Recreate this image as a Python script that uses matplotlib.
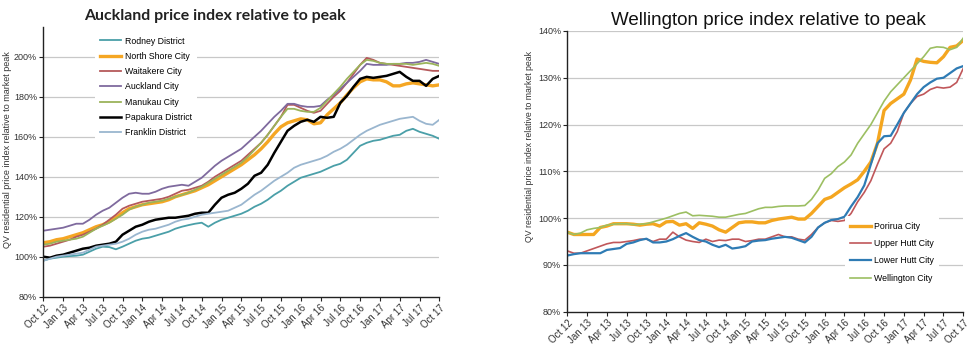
import numpy as np
import matplotlib
matplotlib.use('Agg')
import matplotlib.pyplot as plt

# month labels, Oct 12 .. Oct 17 (monthly points, quarterly ticks)
tick_labels = ['Oct 12', 'Jan 13', 'Apr 13', 'Jul 13', 'Oct 13', 'Jan 14', 'Apr 14', 'Jul 14',
               'Oct 14', 'Jan 15', 'Apr 15', 'Jul 15', 'Oct 15', 'Jan 16', 'Apr 16', 'Jul 16',
               'Oct 16', 'Jan 17', 'Apr 17', 'Jul 17', 'Oct 17']
months = np.arange(61)

# Auckland (% of previous market peak)
rodney = [98, 99, 99.5, 100, 100.3, 100.5, 101, 102.5, 104, 105, 104.8, 103.7, 105, 106.5, 108, 109,
          109.5, 110.5, 111.5, 112.5, 114, 115, 115.8, 116.5, 117, 115, 117, 118.5, 119.5, 120.5, 121.5,
          123, 125, 126.5, 128.5, 131, 133, 135.5, 137.5, 139.5, 140.5, 141.5, 142.5, 144, 145.5, 146.5,
          148.5, 152, 155.5, 157, 158, 158.5, 159.5, 160.5, 161, 163, 164, 162.5, 161.5, 160.5, 159]
north_shore = [107, 107.5, 108.5, 109, 110, 111, 112, 113.5, 115, 116, 117.5, 119.5, 122, 124, 125, 126,
               126.5, 127, 127.5, 128.5, 130, 131, 132, 133, 134.5, 136, 138, 140, 142, 144, 146, 148.5,
               151, 154, 157.5, 161.5, 165, 167, 168, 169, 168.5, 166.5, 167, 171, 174, 177, 181, 184.5,
               187.5, 189, 188.5, 188.5, 187.5, 185.5, 185.5, 186.5, 187, 186.5, 186, 185.5, 186]
waitakere = [105, 105.5, 106.5, 107.5, 108.5, 110, 111, 112.5, 114, 116, 118.5, 121, 124, 125.5, 126.5,
             127.5, 128, 128.5, 129, 130, 131.5, 133, 133.5, 134.5, 135.5, 137.5, 140, 142, 144, 146, 148,
             151, 154, 157, 161, 165.5, 170, 176, 176, 174.5, 173, 172, 173, 176.5, 180, 183, 187, 191.5,
             196, 199.5, 198.5, 197, 196.5, 196, 195.5, 195, 194.5, 194, 193.5, 193, 193]
auckland_city = [113, 113.5, 114, 114.5, 115.5, 116.5, 116.5, 118.5, 121, 123, 124.5, 127, 129.5, 131.5,
                 132, 131.5, 131.5, 132.5, 134, 135, 135.5, 136, 135.5, 137.5, 139.5, 142.5, 145.5, 148,
                 150, 152, 154, 157, 160, 163, 166.5, 170, 173, 176.5, 176.5, 175.5, 175, 175, 175.5, 178.5,
                 181, 184, 187, 190, 193, 196.5, 196, 196, 196, 196.5, 196.5, 197, 197, 197.5, 198.5, 197.5,
                 196.5]
manukau = [106, 106.5, 107.5, 108, 108.5, 109, 110, 112, 114, 115.5, 117, 119, 121, 123.5, 125, 126, 127,
           127.5, 128, 129, 130, 131, 132, 133.5, 135, 137, 139, 141, 143, 145, 147, 150, 153.5, 157, 161,
           165.5, 170, 174, 174, 173, 172.5, 172.5, 174.5, 178, 181.5, 185, 189, 192.5, 196, 198.5, 198,
           197, 196.5, 196.5, 196.5, 196.5, 196, 196.5, 197, 196.5, 195.5]
papakura = [100, 99.5, 100.5, 101, 102, 103, 104, 104.5, 105.5, 106, 106.5, 107.5, 111, 113, 115, 116,
            117.5, 118.5, 119, 119.5, 119.5, 120, 120.5, 121.5, 122, 122, 126, 129.5, 131, 132, 134, 136.5,
            140.5, 142, 146, 152, 157.5, 163, 165.5, 167.5, 168.5, 167.5, 170, 169.5, 170, 177, 180.5, 185,
            189, 190, 189.5, 190, 190.5, 191.5, 192.5, 190, 188, 188, 185.5, 189, 190.5]
franklin = [98, 99, 100, 100.5, 101, 101.5, 102, 103.5, 105, 105.5, 106, 106.5, 107.5, 109, 111, 112.5,
            113.5, 114, 115, 116, 117.5, 118.5, 119, 120, 121, 121.5, 122, 122.5, 123, 124.5, 126, 128.5,
            131, 133, 135.5, 138, 140, 142, 144.5, 146, 147, 148, 149, 150.5, 152.5, 154, 156, 158.5, 161,
            163, 164.5, 166, 167, 168, 169, 169.5, 170, 168, 166.5, 166, 168.5]

# Wellington
porirua = [97, 96.5, 96.5, 96.5, 96.5, 98, 98.3, 98.8, 98.8, 98.8, 98.7, 98.5, 98.7, 98.8, 98.3, 99.2,
           99.3, 98.5, 98.8, 97.8, 99, 98.7, 98.3, 97.5, 97, 98, 99, 99.2, 99.2, 99, 99, 99.5, 99.8, 100,
           100.2, 99.8, 99.8, 101, 102.5, 104, 104.5, 105.5, 106.5, 107.3, 108.2, 110, 112, 116, 123, 124.5,
           125.5, 126.5, 129.5, 134, 133.5, 133.3, 133.2, 134.5, 136.5, 136.8, 138]
upper_hutt = [93, 92.5, 92.5, 93, 93.5, 94, 94.5, 94.8, 94.8, 95, 95.2, 95.5, 95.5, 95, 95.5, 95.5, 97,
              96, 95.3, 95, 94.8, 95.5, 95, 95.3, 95.2, 95.5, 95.5, 95, 95.2, 95.5, 95.5, 96, 96.5, 96, 96,
              95.5, 95.3, 96.5, 98, 99, 99.5, 99.3, 99.5, 101, 103.5, 105.5, 108, 111.5, 114.8, 116, 118.5,
              122.5, 124.5, 126, 126.5, 127.5, 128, 127.8, 128, 129, 132]
lower_hutt = [92, 92.3, 92.5, 92.5, 92.5, 92.5, 93.2, 93.4, 93.6, 94.5, 94.8, 95.3, 95.6, 94.8, 94.8, 95,
              95.5, 96.2, 96.8, 96, 95.3, 95, 94.3, 93.8, 94.3, 93.5, 93.7, 94, 95, 95.2, 95.3, 95.6, 95.8,
              96, 95.8, 95.3, 94.8, 96, 98, 99, 99.6, 99.8, 100.3, 102.5, 104.5, 107, 111.5, 116, 117.5,
              117.6, 120, 122.5, 124.5, 126.5, 128, 129, 129.8, 130, 131, 132, 132.5]
wellington = [97, 96.5, 96.8, 97.5, 97.8, 98, 98.5, 98.7, 98.8, 98.8, 98.6, 98.7, 98.8, 99.2, 99.6, 100,
              100.5, 101, 101.3, 100.5, 100.6, 100.5, 100.4, 100.2, 100.2, 100.5, 100.8, 101, 101.5, 102,
              102.3, 102.3, 102.5, 102.6, 102.6, 102.6, 102.7, 104, 106, 108.5, 109.5, 111, 112, 113.5, 116,
              118, 120, 122.5, 125, 127, 128.5, 130, 131.5, 133, 134.5, 136.3, 136.6, 136.5, 136, 136.5,
              138.5]

akl_series = [
    ('Rodney District', rodney, '#4a9fa8', 1.3),
    ('North Shore City', north_shore, '#f5a623', 2.4),
    ('Waitakere City', waitakere, '#b5595b', 1.3),
    ('Auckland City', auckland_city, '#7f6a9e', 1.3),
    ('Manukau City', manukau, '#9bb35a', 1.3),
    ('Papakura District', papakura, '#000000', 1.8),
    ('Franklin District', franklin, '#9ab6cf', 1.3),
]
wlg_series = [
    ('Porirua City', porirua, '#f4a620', 2.4),
    ('Upper Hutt City', upper_hutt, '#c0575a', 1.2),
    ('Lower Hutt City', lower_hutt, '#2e7bb4', 1.6),
    ('Wellington City', wellington, '#9cbf62', 1.2),
]

tick_font = 'Liberation Sans'


def style_axis(ax, yticks):
    ax.set_xlim(0, 60)
    ax.set_xticks(months[::3])
    ax.set_xticklabels(tick_labels, rotation=45, ha='right', rotation_mode='anchor',
                       fontsize=7, family=tick_font, color='#333333')
    ax.set_yticks(yticks)
    ax.set_yticklabels(['%d%%' % v for v in yticks], fontsize=6.5, family=tick_font, color='#333333')
    ax.tick_params(axis='both', length=3, width=0.8, color='#222222', pad=1.5)
    for v in yticks[1:]:
        ax.axhline(v, color='#c8c8c8', lw=0.9, zorder=0)
    for s in ['top', 'right']:
        ax.spines[s].set_visible(False)
    for s in ['left', 'bottom']:
        ax.spines[s].set_color('#222222')
        ax.spines[s].set_linewidth(1.0)


def white_legend(ax, anchor, spacing):
    leg = ax.legend(loc='upper left', bbox_to_anchor=anchor, frameon=True,
                    handlelength=2.4, handletextpad=0.35, labelspacing=spacing, borderpad=0.6,
                    prop={'family': tick_font, 'size': 6.3})
    leg.get_frame().set_facecolor('white')
    leg.get_frame().set_edgecolor('none')
    leg.get_frame().set_alpha(1)
    return leg


fig = plt.figure(figsize=(9.73, 3.54), dpi=100)

# Auckland
ax1 = fig.add_axes([0.0445, 0.162, 0.407, 0.762])
for label, vals, color, lw in akl_series:
    ax1.plot(months, vals, color=color, lw=lw, label=label)
ax1.set_ylim(80, 215)
style_axis(ax1, np.arange(80, 201, 20))
white_legend(ax1, (0.12, 1.0), 0.72)
fig.text(0.221, 0.955, 'Auckland price index relative to peak', ha='center', va='center',
         fontsize=11.4, fontweight='bold', family='Lato', color='#222222')
fig.text(0.008, 0.576, 'QV residential price index relative to market peak', rotation=90,
         ha='center', va='center', fontsize=6.5, family=tick_font, color='#333333')

# Wellington
ax2 = fig.add_axes([0.583, 0.1195, 0.407, 0.793])
for label, vals, color, lw in wlg_series:
    ax2.plot(months, vals, color=color, lw=lw, label=label)
ax2.set_ylim(80, 140)
style_axis(ax2, np.arange(80, 141, 10))
white_legend(ax2, (0.69, 0.355), 0.95)
fig.text(0.79, 0.943, 'Wellington price index relative to peak', ha='center', va='center',
         fontsize=13.5, family=tick_font, color='#111111')
fig.text(0.544, 0.585, 'QV residential price index relative to market peak', rotation=90,
         ha='center', va='center', fontsize=6.3, family=tick_font, color='#333333')

plt.savefig('out.png', dpi=100)
